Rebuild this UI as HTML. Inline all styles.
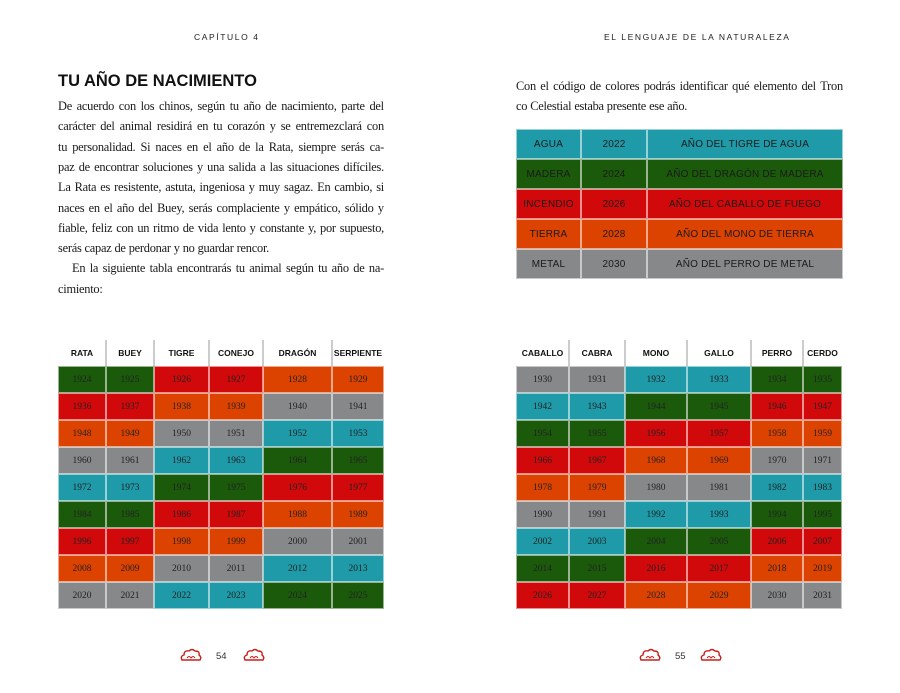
<!DOCTYPE html>
<html><head><meta charset="utf-8">
<style>
body{margin:0;width:900px;height:693px;background:#fff;position:relative;overflow:hidden;font-family:"Liberation Serif",serif;color:#1a1a1a}
.abs{position:absolute}
.run{font-family:"Liberation Sans",sans-serif;font-size:8.5px;letter-spacing:1.6px;top:32px;color:#222}
h1{position:absolute;left:58px;top:72px;margin:0;font-family:"Liberation Sans",sans-serif;font-size:16.5px;font-weight:bold;color:#111}
.ln{position:absolute;font-size:12.4px;letter-spacing:-0.25px;height:20px;display:flex;justify-content:space-between;white-space:nowrap}
.ln.l{justify-content:flex-start;gap:3px}
.cell{position:absolute;box-sizing:border-box;border:1px solid rgba(255,255,255,.55);display:flex;align-items:center;justify-content:center;font-size:9.5px;color:#222}
.hd{position:absolute;font-family:"Liberation Sans",sans-serif;font-weight:bold;font-size:8.5px;display:flex;align-items:center;justify-content:center;color:#111}
.sep{position:absolute;width:2px;background:#ccc}
.st{font-family:"Liberation Sans",sans-serif;font-size:10px;letter-spacing:.2px;color:#1a1a1a}
.pg{position:absolute;top:651px;font-family:"Liberation Sans",sans-serif;font-size:9.5px;color:#333}
</style></head><body>
<div class="abs run" style="left:194px">CAPÍTULO 4</div>
<div class="abs run" style="left:604px">EL LENGUAJE DE LA NATURALEZA</div>
<h1>TU AÑO DE NACIMIENTO</h1>
<div id="t"></div>
<div class="pg" style="left:216px">54</div>
<div class="pg" style="left:675px">55</div>
<script>
var out="";
function line(x,y,w,s,j){
 var ws=s.split(" ");
 out+='<div class="ln'+(j?'':' l')+'" style="left:'+x+'px;top:'+y+'px;width:'+w+'px">'+ws.map(function(a){return '<span>'+a+'</span>';}).join("")+'</div>';
}
var L=[["De acuerdo con los chinos, según tu año de nacimiento, parte del",1],
["carácter del animal residirá en tu corazón y se entremezclará con",1],
["tu personalidad. Si naces en el año de la Rata, siempre serás ca-",1],
["paz de encontrar soluciones y una salida a las situaciones difíciles.",1],
["La Rata es resistente, astuta, ingeniosa y muy sagaz. En cambio, si",1],
["naces en el año del Buey, serás complaciente y empático, sólido y",1],
["fiable, feliz con un ritmo de vida lento y constante y, por supuesto,",1],
["serás capaz de perdonar y no guardar rencor.",0],
["En la siguiente tabla encontrarás tu animal según tu año de na-",1],
["cimiento:",0]];
for(var i=0;i<L.length;i++){var x=i==8?72:58;line(x,99+i*20.3,384-x,L[i][0],L[i][1]);}
line(516,79,327,"Con el código de colores podrás identificar qué elemento del Tron",1);
line(516,99,327,"co Celestial estaba presente ese año.",0);
var C=["#1b5a0b","#d2090b","#dc4200","#86888a","#1e9aa8"];
function tbl(x,names,start){
 var ys=366,rh=27;
 for(var i=0;i<names.length;i++){
  var x0=x[i],w=x[i+1]-x[i];
  out+='<div class="hd" style="left:'+x0+'px;top:340px;width:'+w+'px;height:26px">'+names[i]+'</div>';
  if(i>0)out+='<div class="sep" style="left:'+(x0-1)+'px;top:340px;height:26px"></div>';
  for(var r=0;r<9;r++){
   var y=start+i+12*r;var e=Math.floor(((y-1924)%10)/2);
   out+='<div class="cell" style="left:'+x0+'px;top:'+(ys+r*rh)+'px;width:'+w+'px;height:'+rh+'px;background:'+C[e]+'">'+y+'</div>';
  }
 }
}
tbl([58,106,154,209,263,332,384],["RATA","BUEY","TIGRE","CONEJO","DRAGÓN","SERPIENTE"],1924);
tbl([516,569,625,687,751,803,842],["CABALLO","CABRA","MONO","GALLO","PERRO","CERDO"],1930);
var sm=[["AGUA","2022","AÑO DEL TIGRE DE AGUA",4],["MADERA","2024","AÑO DEL DRAGÓN DE MADERA",0],["INCENDIO","2026","AÑO DEL CABALLO DE FUEGO",1],["TIERRA","2028","AÑO DEL MONO DE TIERRA",2],["METAL","2030","AÑO DEL PERRO DE METAL",3]];
var sx=[516,581,647,843];
for(var r=0;r<5;r++)for(var c=0;c<3;c++){
 out+='<div class="cell st" style="left:'+sx[c]+'px;top:'+(129+r*30)+'px;width:'+(sx[c+1]-sx[c])+'px;height:30px;background:'+C[sm[r][3]]+'">'+sm[r][c]+'</div>';
}
function cloud(x){return '<svg class="abs" style="left:'+x+'px;top:648px" width="22" height="14" viewBox="0 0 22 14"><path d="M2 12 Q0 8 4 7 Q4 2 9 3 Q12 0 15 3 Q20 3 19 7 Q22 9 20 12 Z" fill="none" stroke="#c8201c" stroke-width="1.4"/><path d="M7 10 Q9 7 11 10 Q13 7 15 10" fill="none" stroke="#c8201c" stroke-width="1"/></svg>';}
out+=cloud(180)+cloud(243)+cloud(639)+cloud(700);
document.getElementById("t").innerHTML=out;
</script>
</body></html>
